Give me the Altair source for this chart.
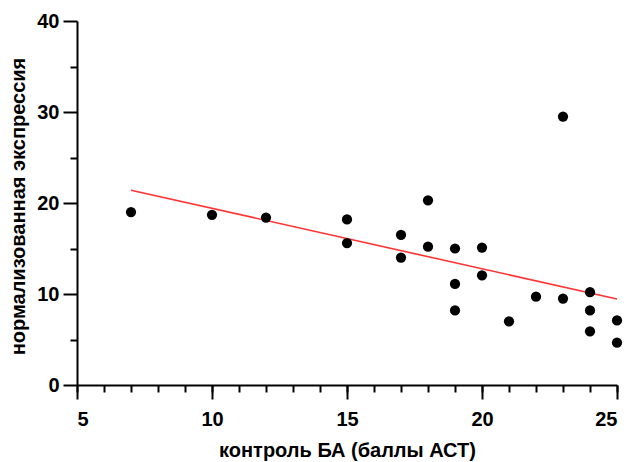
import altair as alt
import pandas as pd

# АСТ scores (x) and normalized expression (y)
act_scores = [7, 10, 12, 15, 15, 17, 17, 18, 18, 19, 19, 19, 20, 20, 21, 22, 23, 23, 24, 24, 24, 25, 25]
expression = [19.0, 18.7, 18.4, 18.2, 15.6, 16.5, 14.0, 20.3, 15.2, 15.0, 11.1, 8.2, 15.1, 12.05,
              7.0, 9.7, 29.5, 9.5, 10.2, 8.2, 5.9, 7.1, 4.65]

x_major = [5, 10, 15, 20, 25]
x_minor = list(range(5, 26))
y_major = [0, 10, 20, 30, 40]
y_minor = [5, 15, 25, 35]

x_title = "контроль БА (баллы АСТ)"
y_title = "нормализованная экспрессия"

df = pd.DataFrame({"x": act_scores, "y": expression})

FONT = "Liberation Sans"
W, H = 540, 364

xscale = alt.Scale(domain=[5, 25], nice=False, zero=False)
yscale = alt.Scale(domain=[0, 40], nice=False)

base = alt.Chart(df)

points = base.mark_circle(size=105, color="black", opacity=1).encode(
    x=alt.X("x:Q", scale=xscale, axis=alt.Axis(
        values=x_major, orient="bottom", title=x_title, grid=False,
        tickSize=14, labelPadding=10, labelFontSize=20,
        titleY=65, titleBaseline="middle", titleAlign="center",
        titleFontSize=20)),
    y=alt.Y("y:Q", scale=yscale, axis=alt.Axis(
        values=y_major, orient="left", title=y_title, grid=False,
        tickSize=14, labelPadding=4, labelFontSize=20,
        titleX=-59, titleY=185, titleBaseline="middle", titleAlign="center",
        titleAngle=-90, titleFontSize=20)),
)

minor = base.mark_circle(opacity=0).encode(
    x=alt.X("x:Q", scale=xscale, axis=alt.Axis(
        values=x_minor, orient="bottom", title=None, labels=False, domain=False,
        grid=False, tickSize=7)),
    y=alt.Y("y:Q", scale=yscale, axis=alt.Axis(
        values=y_minor, orient="left", title=None, labels=False, domain=False,
        grid=False, tickSize=7)),
)

line = base.transform_regression("x", "y").mark_line(color="#ff3333", strokeWidth=1.6).encode(
    x=alt.X("x:Q", scale=xscale, axis=None),
    y=alt.Y("y:Q", scale=yscale, axis=None),
)

chart = alt.layer(line, points, minor).resolve_axis(x="independent", y="independent").properties(
    width=W, height=H,
    autosize=alt.AutoSizeParams(type="none"),
    padding={"left": 77, "top": 21, "right": 10, "bottom": 77},
).configure_axis(
    domainColor="black", domainWidth=2, tickColor="black", tickWidth=2,
    labelFont=FONT, labelFontWeight="bold", labelColor="black",
    titleFont=FONT, titleFontWeight="bold", titleColor="black",
).configure_view(stroke=None)

chart.save("out.html", embed_options={"renderer": "svg", "actions": False})
